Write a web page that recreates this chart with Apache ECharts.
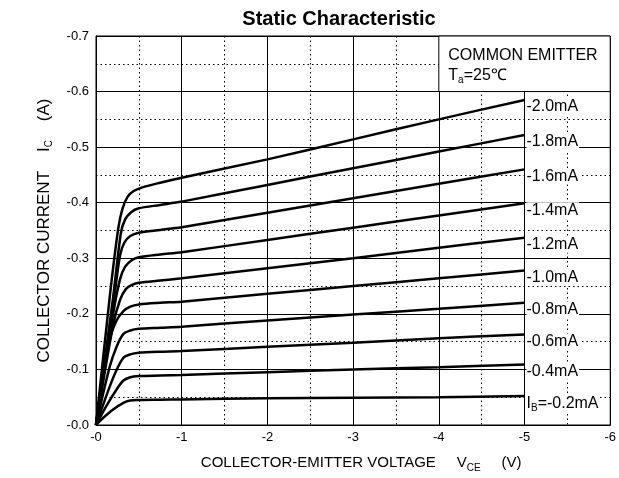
<!DOCTYPE html>
<html>
<head>
<meta charset="utf-8">
<script src="https://cdn.jsdelivr.net/npm/echarts@6/dist/echarts.min.js"></script>
<style>
  html, body { margin: 0; padding: 0; background: #fff; }
  #chart { width: 619px; height: 478px; }
</style>
</head>
<body>
<div id="chart"></div>
<script>
// PNP transistor: values kept as magnitudes, the axes print them with a minus sign
const ibLabels = ['-2.0mA', '-1.8mA', '-1.6mA', '-1.4mA', '-1.2mA', '-1.0mA', '-0.8mA', '-0.6mA', '-0.4mA', '{n|I}{s|B}{n|=-0.2mA}']

// [|V_CE| (V), |I_C| (A)]
const ib20 = [[0, 0], [0.16, 0.23], [0.26, 0.354], [0.31, 0.39], [0.37, 0.411], [0.44, 0.421], [0.55, 0.428], [0.75, 0.436], [1, 0.445], [2, 0.478], [3, 0.514], [4, 0.55], [5, 0.585]]
const ib18 = [[0, 0], [0.2, 0.23], [0.29, 0.345], [0.34, 0.37], [0.41, 0.383], [0.5, 0.39], [0.75, 0.396], [1, 0.402], [2, 0.432], [3, 0.462], [4, 0.492], [5, 0.522]]
const ib16 = [[0, 0], [0.2, 0.215], [0.28, 0.305], [0.33, 0.328], [0.4, 0.34], [0.5, 0.346], [0.75, 0.351], [1, 0.356], [2, 0.382], [3, 0.408], [4, 0.434], [5, 0.46]]
const ib14 = [[0, 0], [0.2, 0.2], [0.28, 0.262], [0.34, 0.285], [0.42, 0.297], [0.5, 0.302], [0.75, 0.307], [1, 0.311], [2, 0.333], [3, 0.355], [4, 0.377], [5, 0.399]]
const ib12 = [[0, 0], [0.2, 0.18], [0.28, 0.225], [0.35, 0.245], [0.42, 0.252], [0.5, 0.256], [0.75, 0.26], [1, 0.264], [2, 0.282], [3, 0.3], [4, 0.319], [5, 0.337]]
const ib10 = [[0, 0], [0.16, 0.153], [0.24, 0.188], [0.32, 0.205], [0.4, 0.213], [0.5, 0.217], [0.75, 0.22], [1, 0.222], [2, 0.236], [3, 0.25], [4, 0.264], [5, 0.278]]
const ib08 = [[0, 0], [0.16, 0.105], [0.24, 0.141], [0.32, 0.164], [0.4, 0.17], [0.5, 0.173], [0.75, 0.175], [1, 0.177], [2, 0.188], [3, 0.199], [4, 0.209], [5, 0.22]]
const ib06 = [[0, 0], [0.16, 0.069], [0.24, 0.099], [0.32, 0.121], [0.4, 0.127], [0.5, 0.13], [0.75, 0.132], [1, 0.133], [2, 0.141], [3, 0.148], [4, 0.156], [5, 0.163]]
const ib04 = [[0, 0], [0.12, 0.034], [0.24, 0.064], [0.32, 0.08], [0.4, 0.086], [0.5, 0.088], [0.75, 0.089], [1, 0.09], [2, 0.095], [3, 0.1], [4, 0.104], [5, 0.109]]
const ib02 = [[0, 0], [0.085, 0.013], [0.2, 0.028], [0.32, 0.04], [0.4, 0.044], [0.5, 0.045], [0.75, 0.0455], [1, 0.046], [2, 0.048], [3, 0.049], [4, 0.05], [5, 0.052]]

// note box corners in data units
const noteFrom = [4, 0.6]
const noteTo = [6, 0.7]

const curves = [ib20, ib18, ib16, ib14, ib12, ib10, ib08, ib06, ib04, ib02]
const font = 'Arial, "Liberation Sans", sans-serif'

const myChart = echarts.init(document.getElementById('chart'))

function richSet(size) {
  return {
    n: { fontFamily: font, fontSize: size, color: '#000' },
    s: { fontFamily: font, fontSize: 10, color: '#000', padding: [10, 0, 0, 0] }
  }
}

const series = curves.map(function (pts, i) {
  const s = {
    name: ibLabels[i],
    type: 'line',
    data: pts,
    showSymbol: false,
    smooth: 0.3,
    lineStyle: { color: '#000', width: 2.5 },
    endLabel: {
      show: true,
      formatter: ibLabels[i].indexOf('{') === 0 ? ibLabels[i] : '{n|' + ibLabels[i] + '}',
      distance: 2,
      offset: [0, 7],
      backgroundColor: '#fff',
      padding: [0, 1, 0, 0],
      rich: richSet(16)
    }
  }
  if (i === 0) {
    s.markArea = {
      silent: true,
      itemStyle: { color: '#fff', borderColor: '#000', borderWidth: 1 },
      label: {
        show: true,
        position: 'insideTopLeft',
        distance: 7,
        padding: [3, 0, 0, 3],
        formatter: '{n|COMMON EMITTER}\n{n|T}{s|a}{n|=25℃}',
        rich: {
          n: { fontFamily: font, fontSize: 16, color: '#000', lineHeight: 20 },
          s: { fontFamily: font, fontSize: 10, color: '#000', lineHeight: 20, padding: [10, 0, 0, 0] }
        }
      },
      data: [[{ coord: noteFrom }, { coord: noteTo }]]
    }
  }
  return s
})

const option = {
  animation: false,
  backgroundColor: '#fff',
  title: {
    text: 'Static Characteristic',
    left: 334,
    top: 4,
    textAlign: 'center',
    textStyle: { fontFamily: font, fontSize: 20, fontWeight: 'bold', color: '#000' }
  },
  grid: {
    left: 96,
    right: 6,
    top: 36,
    bottom: 49,
    show: true,
    borderColor: '#000',
    borderWidth: 1,
    backgroundColor: '#fff'
  },
  xAxis: {
    type: 'value',
    min: 0,
    max: 6,
    interval: 1,
    name: '{n|COLLECTOR-EMITTER VOLTAGE     V}{s|CE}{n|     (V)}',
    nameLocation: 'middle',
    nameGap: 28,
    nameTextStyle: { rich: richSet(15), padding: [0, 0, 0, 16] },
    axisLine: { show: true, lineStyle: { color: '#000' } },
    axisTick: { show: false },
    axisLabel: {
      fontFamily: font,
      fontSize: 13,
      color: '#000',
      margin: 6,
      formatter: function (v) { return '-' + v }
    },
    splitLine: { show: true, lineStyle: { color: '#000', width: 1 } },
    minorTick: { show: false, splitNumber: 2 },
    minorSplitLine: { show: true, lineStyle: { color: '#000', width: 1, type: [1.5, 3] } }
  },
  yAxis: {
    type: 'value',
    min: 0,
    max: 0.7,
    interval: 0.1,
    name: '{n|COLLECTOR CURRENT    I}{s|C}{n|    (A)}',
    nameLocation: 'middle',
    nameGap: 42,
    nameTextStyle: { rich: richSet(17) },
    axisLine: { show: true, lineStyle: { color: '#000' } },
    axisTick: { show: false },
    axisLabel: {
      fontFamily: font,
      fontSize: 13,
      color: '#000',
      margin: 7,
      formatter: function (v) { return '-' + v.toFixed(1) }
    },
    splitLine: { show: true, lineStyle: { color: '#000', width: 1 } },
    minorTick: { show: false, splitNumber: 2 },
    minorSplitLine: { show: true, lineStyle: { color: '#000', width: 1, type: [1.5, 3] } }
  },
  series: series
}

option && myChart.setOption(option)
</script>
</body>
</html>
